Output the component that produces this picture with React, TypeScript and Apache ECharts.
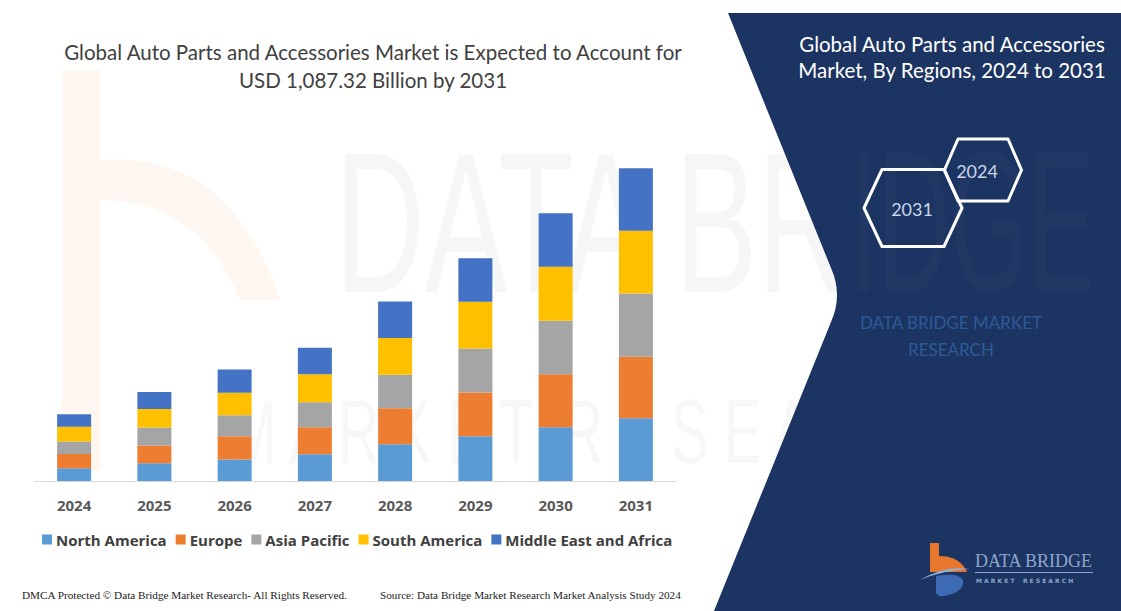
import React, { useEffect, useRef } from "react";
import * as echarts from "echarts";

const years = ["2024", "2025", "2026", "2027", "2028", "2029", "2030", "2031"];
const northAmerica = [44, 62, 75, 93, 128, 156, 187, 218];
const europe = [50, 61, 81, 94, 125, 152, 184, 214];
const asiaPacific = [43, 63, 73, 87, 116, 153, 186, 220];
const southAmerica = [52, 64, 78, 97, 128, 162, 188, 218];
const middleEastAfrica = [43, 59, 81, 92, 127, 151, 186, 217];

const seriesNames = ["North America", "Europe", "Asia Pacific", "South America", "Middle East and Africa"];
const seriesColors = ["#5B9BD5", "#ED7D31", "#A5A5A5", "#FFC000", "#4472C4"];

const titleLines = [
  "Global Auto Parts and Accessories Market is Expected to Account for",
  "USD 1,087.32 Billion by 2031",
];
const sideTitleLines = ["Global Auto Parts and Accessories", "Market, By Regions, 2024 to 2031"];
const footerLeft = "DMCA Protected © Data Bridge Market Research- All Rights Reserved.";
const footerRight = "Source: Data Bridge Market Research Market Analysis Study 2024";

let registered = false;
function registerShapes() {
  if (registered) return;
  registered = true;
  echarts.graphic.registerShape(
    "panelShape",
    echarts.graphic.extendPath(
      "M 728 13 L 1121 13 L 1121 611 L 714 611 L 831 322 Q 843 295 831 268 Z",
      {}
    )
  );
  echarts.graphic.registerShape(
    "logoB",
    echarts.graphic.extendPath(
      "M 930 543 L 939 543 L 939 556 Q 960 556 967 572 L 930 572 Z",
      {}
    )
  );
  echarts.graphic.registerShape(
    "logoSwoosh",
    echarts.graphic.extendPath(
      "M 920 580 Q 944 565 970 569 Q 944 570 920 580 Z",
      {}
    )
  );
  echarts.graphic.registerShape(
    "logoBowl",
    echarts.graphic.extendPath(
      "M 936 576 Q 958 572 963 580 Q 965 592 944 596 Q 935 597 936 590 Z",
      {}
    )
  );
  echarts.graphic.registerShape(
    "wmB",
    echarts.graphic.extendPath(
      "M 62 70 L 100 70 L 100 160 Q 230 150 280 300 L 240 300 Q 200 200 100 200 L 100 470 L 62 470 Z",
      {}
    )
  );
}

function hexPoints(cx: number, cy: number, w: number, h: number, top: number) {
  return [
    [cx - w / 2, cy],
    [cx - top / 2, cy - h / 2],
    [cx + top / 2, cy - h / 2],
    [cx + w / 2, cy],
    [cx + top / 2, cy + h / 2],
    [cx - top / 2, cy + h / 2],
  ];
}

export default function App() {
  const ref = useRef<HTMLDivElement>(null);

  useEffect(() => {
    if (!ref.current) return;
    registerShapes();
    const chart = echarts.init(ref.current, undefined, { renderer: "svg" });
    const dataSets = [northAmerica, europe, asiaPacific, southAmerica, middleEastAfrica];

    const option: any = {
      animation: false,
      backgroundColor: "#ffffff",
      grid: { left: 34, right: 445, top: 164.6, bottom: 130 },
      legend: {
        data: seriesNames,
        left: 42,
        top: 532,
        padding: 0,
        icon: "rect",
        itemWidth: 10,
        itemHeight: 10,
        itemGap: 9,
        textStyle: {
          fontFamily: "Open Sans",
          fontWeight: "bold",
          fontSize: 15,
          color: "#404040",
          padding: [0, 0, 0, -1],
        },
      },
      xAxis: {
        type: "category",
        data: years,
        axisLine: { lineStyle: { color: "#d9d9d9", width: 1 } },
        axisTick: { show: false },
        axisLabel: {
          margin: 16,
          fontFamily: "Open Sans",
          fontWeight: "bold",
          fontSize: 15,
          color: "#595959",
        },
      },
      yAxis: {
        type: "value",
        min: 0,
        max: 1100,
        show: false,
        splitLine: { show: false },
      },
      series: seriesNames.map((name, i) => ({
        name,
        type: "bar",
        stack: "total",
        barWidth: 34,
        data: dataSets[i],
        itemStyle: { color: seriesColors[i] },
        z: 5,
      })),
      graphic: [
        // faint watermark on the white side
        {
          type: "wmB",
          z: 0,
          silent: true,
          style: { fill: "rgba(237,125,49,0.07)" },
        },
        {
          type: "text",
          z: 0,
          silent: true,
          x: 335,
          y: 222,
          scaleX: 0.62,
          style: {
            text: "DATA BR",
            fill: "rgba(0,0,0,0.035)",
            font: "200px 'Liberation Sans'",
            textVerticalAlign: "middle",
          },
        },
        {
          type: "text",
          z: 0,
          silent: true,
          x: 230,
          y: 432,
          scaleX: 0.62,
          style: {
            text: "M A R K E T  R E S E A R C H",
            fill: "rgba(0,0,0,0.03)",
            font: "90px 'Liberation Sans'",
            textVerticalAlign: "middle",
          },
        },
        // main title
        ...titleLines.map((t, i) => ({
          type: "text",
          z: 20,
          x: 373,
          y: 52 + i * 28,
          style: {
            text: t,
            fill: "#404040",
            font: "20.5px Lato",
            textAlign: "center",
            textVerticalAlign: "middle",
          },
        })),
        // footer
        {
          type: "text",
          z: 20,
          x: 22,
          y: 595,
          style: {
            text: footerLeft,
            fill: "#222222",
            font: "11.2px 'Liberation Serif'",
            textVerticalAlign: "middle",
          },
        },
        {
          type: "text",
          z: 20,
          x: 380,
          y: 595,
          style: {
            text: footerRight,
            fill: "#222222",
            font: "11.2px 'Liberation Serif'",
            textVerticalAlign: "middle",
          },
        },
        // right panel
        {
          type: "panelShape",
          z: 30,
          silent: true,
          style: { fill: "#1c3461" },
        },
        {
          type: "text",
          z: 31,
          silent: true,
          x: 850,
          y: 222,
          scaleX: 0.5,
          style: {
            text: "IDGE",
            fill: "rgba(255,255,255,0.025)",
            font: "200px 'Liberation Sans'",
            textVerticalAlign: "middle",
          },
        },
        ...sideTitleLines.map((t, i) => ({
          type: "text",
          z: 32,
          x: 952,
          y: 44 + i * 26,
          style: {
            text: t,
            fill: "#ffffff",
            font: "20.5px Lato",
            textAlign: "center",
            textVerticalAlign: "middle",
          },
        })),
        {
          type: "polygon",
          z: 32,
          shape: { points: hexPoints(983, 170, 77, 62, 50) },
          style: { fill: "none", stroke: "#ffffff", lineWidth: 3, lineJoin: "round" },
        },
        {
          type: "polygon",
          z: 32,
          shape: { points: hexPoints(913, 208, 98, 77, 62) },
          style: { fill: "none", stroke: "#ffffff", lineWidth: 3, lineJoin: "round" },
        },
        {
          type: "text",
          z: 33,
          x: 977,
          y: 171,
          style: {
            text: "2024",
            fill: "#c8d6ec",
            font: "18px Lato",
            textAlign: "center",
            textVerticalAlign: "middle",
          },
        },
        {
          type: "text",
          z: 33,
          x: 912,
          y: 209,
          style: {
            text: "2031",
            fill: "#c8d6ec",
            font: "18px Lato",
            textAlign: "center",
            textVerticalAlign: "middle",
          },
        },
        {
          type: "text",
          z: 33,
          x: 951,
          y: 322,
          style: {
            text: "DATA BRIDGE MARKET",
            fill: "#2d5a98",
            font: "17px Lato",
            textAlign: "center",
            textVerticalAlign: "middle",
          },
        },
        {
          type: "text",
          z: 33,
          x: 951,
          y: 349,
          style: {
            text: "RESEARCH",
            fill: "#2d5a98",
            font: "17px Lato",
            textAlign: "center",
            textVerticalAlign: "middle",
          },
        },
        // logo
        { type: "logoB", z: 34, style: { fill: "#e8772e" } },
        { type: "logoSwoosh", z: 34, style: { fill: "#8fb0dd" } },
        { type: "logoBowl", z: 34, style: { fill: "#3d6cb5" } },
        {
          type: "text",
          z: 34,
          x: 975,
          y: 561,
          style: {
            text: "DATA BRIDGE",
            fill: "#8ea6cc",
            font: "18px 'Liberation Sans Narrow'",
            textVerticalAlign: "middle",
          },
        },
        {
          type: "line",
          z: 34,
          shape: { x1: 975, y1: 572.5, x2: 1093, y2: 572.5 },
          style: { stroke: "#8ea6cc", lineWidth: 1 },
        },
        {
          type: "text",
          z: 34,
          x: 976,
          y: 580,
          style: {
            text: "M A R K E T    R E S E A R C H",
            fill: "#8ea6cc",
            font: "bold 6px 'DejaVu Sans'",
            textVerticalAlign: "middle",
          },
        },
      ],
    };

    chart.setOption(option);
    return () => {
      chart.dispose();
    };
  }, []);

  return (
    <div
      ref={ref}
      style={{ position: "fixed", left: 0, top: 0, width: 1121, height: 611, background: "#ffffff" }}
    />
  );
}
